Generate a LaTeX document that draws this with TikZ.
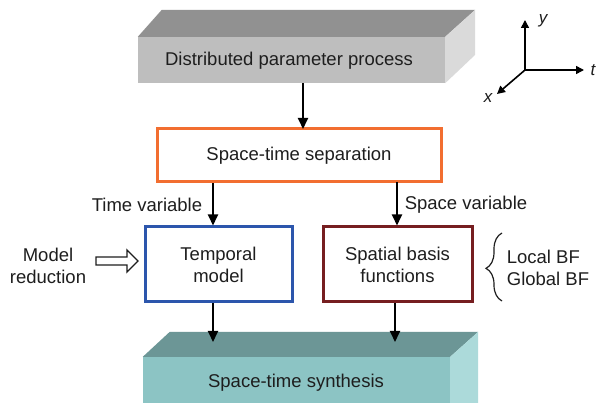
\documentclass[tikz,border=0pt]{standalone}
\usepackage{fontspec}
\setmainfont{Liberation Sans}
\usetikzlibrary{arrows.meta,decorations.pathreplacing}
\definecolor{gfront}{RGB}{190,190,190}
\definecolor{gtop}{RGB}{145,145,145}
\definecolor{gside}{RGB}{218,218,218}
\definecolor{tfront}{RGB}{140,196,196}
\definecolor{ttop}{RGB}{108,150,150}
\definecolor{tside}{RGB}{172,218,218}
\definecolor{orng}{RGB}{242,110,48}
\definecolor{blu}{RGB}{44,86,172}
\definecolor{dred}{RGB}{118,30,32}
\definecolor{txt}{RGB}{30,30,30}
\tikzset{
  lbl/.style={font=\fontsize{18.5}{22}\selectfont, text=txt, inner sep=0pt, align=center},
  face/.style={draw=none, inner sep=0pt},
  box/.style={draw, line width=3pt, fill=white, inner sep=0pt, font=\fontsize{18.5}{22}\selectfont, text=txt, align=center},
  flow/.style={line width=1.8pt, -{Triangle[length=11pt,width=10pt]}},
  axis/.style={line width=1.6pt, -{Triangle[length=8pt,width=8pt]}},
  openarrow/.style={draw=txt, fill=white, line width=1.3pt, line join=miter},
}
\begin{document}
\begin{tikzpicture}[x=1pt,y=-1pt]
\useasboundingbox (0,0) rectangle (598,403);
\fill[white] (0,0) rectangle (598,403);
% top 3D box
\node[face, fill=gfront, minimum width=307pt, minimum height=46pt] (dppf) at (291.5,60) {};
\fill[gtop] (dppf.north west) -- ++(24,-27) -- ([shift={(30,-27)}]dppf.north east) -- (dppf.north east) -- cycle;
\fill[gside] (dppf.north east) -- ++(30,-27) -- ++(0,45) -- (dppf.south east) -- cycle;
\node[lbl] (dpp) at (289,61) {Distributed parameter process};
% separation
\node[box, draw=orng, minimum width=284pt, minimum height=53pt] (sep) at (299,155.5) {Space-time separation};
% temporal and spatial
\node[box, draw=blu, minimum width=147pt, minimum height=75pt] (tm) at (218.5,264.5) {Temporal\\model};
\node[box, draw=dred, minimum width=149pt, minimum height=75pt] (sb) at (397.5,264.5) {Spatial basis\\functions};
% bottom 3D box
\node[face, fill=tfront, minimum width=307pt, minimum height=46pt] (synf) at (296.5,380) {};
\fill[ttop] (synf.north west) -- ++(27,-25) -- ([shift={(28,-25)}]synf.north east) -- (synf.north east) -- cycle;
\fill[tside] (synf.north east) -- ++(28,-25) -- ++(0,71) -- (synf.south east) -- cycle;
\node[lbl] (syn) at (296,383) {Space-time synthesis};
% arrows
\coordinate (a1) at (303,83);
\draw[flow] (a1) -- (303,129);
\draw[flow] (tm.north |- sep.south) ++(-5.5,0) coordinate (s1) -- (s1 |- tm.north);
\draw[flow] (397,182) coordinate (s2) -- (s2 |- sb.north);
\coordinate (e1) at (213,342);
\coordinate (e2) at (395,342);
\draw[flow] (e1 |- tm.south) -- (e1);
\draw[flow] (e2 |- sb.south) -- (e2);
% labels
\node[lbl] (tv) at (147,205) {Time variable};
\node[lbl] (sv) at (466,205) {Space variable};
\node[lbl] (mr) at (48,265.5) {Model\\reduction};
\draw[openarrow] (96,257) -- (127,257) -- (127,250) -- (138,261) -- (127,272) -- (127,265) -- (96,265) -- cycle;
\node[lbl, align=left] (bf) at (548,267.5) {Local BF\\Global BF};
\draw[line width=1.2pt, txt, decorate, decoration={brace, amplitude=16pt, aspect=0.52, mirror}] (502,233) -- (502,301);
% axes
\coordinate (o) at (525,70);
\coordinate (ay) at (525,20);
\coordinate (at) at (584,70);
\coordinate (ax) at (497,94);
\draw[axis] (o) -- (ay);
\draw[axis] (o) -- (at);
\draw[axis] (o) -- (ax);
\node[lbl, font=\fontsize{17}{20}\selectfont\itshape] (ly) at (543,21) {y};
\node[lbl, font=\fontsize{17}{20}\selectfont\itshape] (lt) at (593,70) {t};
\node[lbl, font=\fontsize{17}{20}\selectfont\itshape] (lx) at (488,98) {x};
\end{tikzpicture}
\end{document}
